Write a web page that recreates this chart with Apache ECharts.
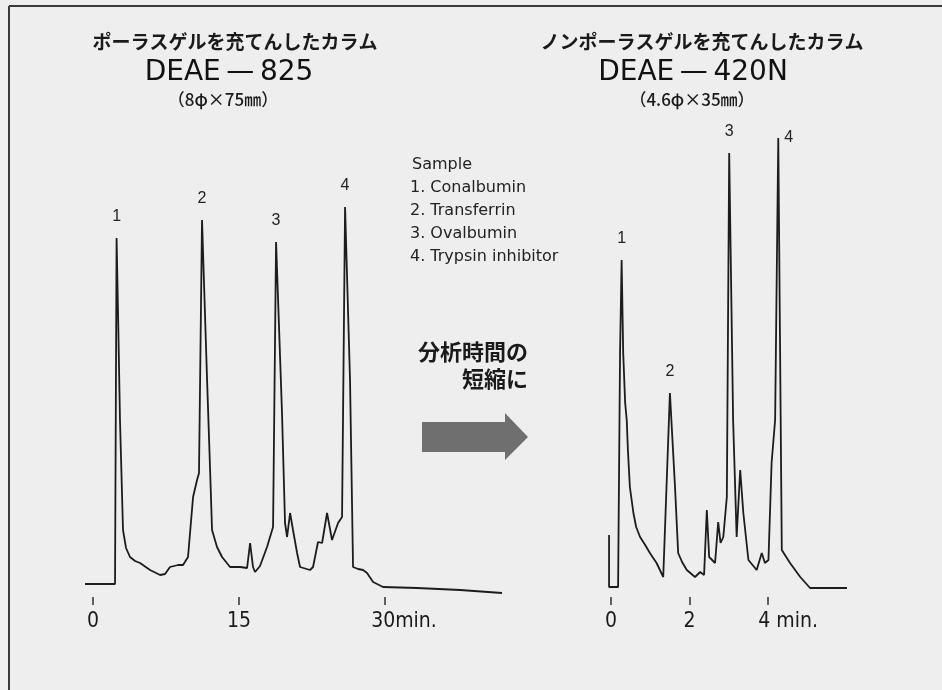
<!DOCTYPE html>
<html>
<head>
<meta charset="utf-8">
<script src="https://cdn.jsdelivr.net/npm/echarts@6/dist/echarts.min.js"></script>
<style>
  html, body { margin: 0; padding: 0; background: #eeeeee; }
  #chart { width: 942px; height: 690px; }
</style>
</head>
<body>
<div id="chart"></div>
<script>
// 左：DEAE-825（時間 min, 信号強度 任意単位）
const leftTime = [-0.82, 2.26, 2.42, 2.57, 2.77, 3.08, 3.39, 3.80, 4.32, 4.83, 5.86, 6.89, 7.40, 7.91, 8.74, 9.25,
  9.76, 10.28, 10.69, 10.89, 11.20, 11.72, 12.03, 12.23, 12.74, 13.26, 14.08, 15.11, 15.83, 16.14, 16.44, 16.65,
  17.16, 17.88, 18.50, 18.60, 18.81, 19.42, 19.73, 19.94, 20.25, 20.55, 20.97, 21.27, 22.30, 22.61, 23.12, 23.54,
  24.05, 24.56, 25.18, 25.59, 25.90, 26.41, 26.72, 27.24, 27.75, 28.16, 28.78, 29.80, 33.30, 37.72, 42.03];
const leftSignal = [13, 13, 359, 284, 177, 67, 49, 40, 36, 34, 27, 22, 23, 30, 32, 32,
  40, 100, 117, 124, 377, 217, 127, 67, 50, 40, 30, 30, 29, 54, 30, 25,
  31, 50, 70, 72, 355, 184, 74, 60, 84, 67, 44, 30, 27, 30, 55, 54,
  84, 57, 74, 80, 390, 217, 30, 28, 27, 24, 15, 10, 9, 7, 4];
const leftPeakTimes = [2.42, 11.20, 18.81, 25.90];

// 右：DEAE-420N
const rightTime = [-0.05, -0.05, 0.18, 0.23, 0.27, 0.31, 0.36, 0.40, 0.43, 0.48, 0.57, 0.64, 0.74, 0.87, 0.99, 1.16,
  1.33, 1.50, 1.63, 1.71, 1.81, 1.93, 2.14, 2.27, 2.37, 2.44, 2.50, 2.65, 2.73, 2.79, 2.86, 2.95,
  3.01, 3.11, 3.20, 3.29, 3.37, 3.50, 3.71, 3.84, 3.92, 4.01, 4.09, 4.18, 4.26, 4.35, 4.56, 4.82, 5.07, 6.01];
const rightSignal = [62, 10, 10, 244, 337, 244, 194, 177, 147, 110, 84, 70, 60, 52, 44, 34,
  20, 204, 110, 44, 35, 27, 20, 25, 22, 87, 40, 34, 75, 54, 60, 100,
  444, 177, 60, 127, 84, 37, 27, 44, 34, 37, 134, 177, 459, 47, 34, 20, 9, 9];
const rightPeakTimes = [0.27, 1.50, 3.01, 4.26];

const peakNames = ['1', '2', '3', '4'];
const leftTicks = [0, 15, 30];
const rightTicks = [0, 2, 4];
const sampleLines = ['Sample', '1. Conalbumin', '2. Transferrin', '3. Ovalbumin', '4. Trypsin inhibitor'];

const tickFont = "'Liberation Sans Narrow', 'DejaVu Sans Condensed', sans-serif";
const jpFont = "'Noto Sans CJK JP', sans-serif";

function buildData(times, values, peaks, sideLabelLast) {
  return times.map((t, i) => {
    const k = peaks.indexOf(t);
    if (k < 0 || (i > 0 && times[i - 1] === t)) return [t, values[i]];
    const side = sideLabelLast && k === peaks.length - 1;
    return {
      value: [t, values[i]],
      label: {
        show: true,
        formatter: peakNames[k],
        position: side ? 'right' : 'top',
        distance: side ? 6 : 13,
        fontSize: 16,
        color: '#222',
        fontFamily: "'Liberation Sans', sans-serif"
      }
    };
  });
}

function xAxisFor(gridIndex, min, max, ticks, unitAt) {
  return {
    type: 'value', gridIndex, min, max,
    axisLine: { show: false },
    splitLine: { show: false },
    axisTick: { show: true, customValues: ticks, length: 8, inside: false, lineStyle: { color: '#333', width: 1.5 } },
    axisLabel: {
      customValues: ticks, margin: 14, fontSize: 21, color: '#1a1a1a', fontFamily: tickFont,
      formatter: v => v === unitAt.v ? '{u|' + v + unitAt.s + '}' : String(v),
      rich: { u: { fontSize: 21, color: '#1a1a1a', fontFamily: tickFont, padding: [0, 0, 0, unitAt.pad] } }
    }
  };
}

const chart = echarts.init(document.getElementById('chart'));
const lineStyle = { color: '#1c1c1c', width: 1.8 };

chart.setOption({
  backgroundColor: '#eeeeee',
  animation: false,
  grid: [
    { left: 83.3, width: 423.3, top: 97, height: 500 },
    { left: 591.4, width: 274.8, top: 97, height: 500 }
  ],
  xAxis: [
    xAxisFor(0, -1, 42.5, leftTicks, { v: 30, s: 'min.', pad: 38 }),
    xAxisFor(1, -0.5, 6.5, rightTicks, { v: 4, s: ' min.', pad: 40 })
  ],
  yAxis: [
    { type: 'value', gridIndex: 0, min: 0, max: 500, show: false },
    { type: 'value', gridIndex: 1, min: 0, max: 500, show: false }
  ],
  series: [
    {
      type: 'line', xAxisIndex: 0, yAxisIndex: 0, showSymbol: true, symbol: 'circle', symbolSize: 0,
      lineStyle, data: buildData(leftTime, leftSignal, leftPeakTimes, false)
    },
    {
      type: 'line', xAxisIndex: 1, yAxisIndex: 1, showSymbol: true, symbol: 'circle', symbolSize: 0,
      lineStyle, data: buildData(rightTime, rightSignal, rightPeakTimes, true)
    }
  ],
  graphic: [
    { type: 'line', shape: { x1: 9, y1: 6, x2: 942, y2: 6 }, style: { stroke: '#3a3a3a', lineWidth: 2 } },
    { type: 'line', shape: { x1: 9, y1: 6, x2: 9, y2: 690 }, style: { stroke: '#3a3a3a', lineWidth: 2 } },
    // 見出し（左）
    { type: 'text', x: 235, y: 42, style: { text: 'ポーラスゲルを充てんしたカラム', font: 'bold 19px ' + jpFont, fill: '#1a1a1a', align: 'center', verticalAlign: 'middle' } },
    { type: 'text', x: 229, y: 73, style: { text: 'DEAE\u2009—\u2009825', font: '28px "DejaVu Sans", sans-serif', fill: '#111', align: 'center', verticalAlign: 'middle' } },
    { type: 'text', x: 223, y: 100, style: { text: '（8φ×75㎜）', font: '500 17px ' + jpFont, fill: '#1a1a1a', align: 'center', verticalAlign: 'middle' } },
    // 見出し（右）
    { type: 'text', x: 702, y: 42, style: { text: 'ノンポーラスゲルを充てんしたカラム', font: 'bold 19px ' + jpFont, fill: '#1a1a1a', align: 'center', verticalAlign: 'middle' } },
    { type: 'text', x: 693, y: 73, style: { text: 'DEAE\u2009—\u2009420N', font: '28px "DejaVu Sans", sans-serif', fill: '#111', align: 'center', verticalAlign: 'middle' } },
    { type: 'text', x: 692, y: 100, style: { text: '（4.6φ×35㎜）', font: '500 17px ' + jpFont, fill: '#1a1a1a', align: 'center', verticalAlign: 'middle' } },
    // サンプル
    ...sampleLines.map((s, i) => ({
      type: 'text', x: i === 0 ? 412 : 410, y: 165 + i * 23,
      style: { text: s, font: '16px "DejaVu Sans", sans-serif', fill: '#222', verticalAlign: 'middle' }
    })),
    // 矢印と説明
    { type: 'text', x: 528, y: 352, style: { text: '分析時間の', font: 'bold 22px ' + jpFont, fill: '#1a1a1a', align: 'right', verticalAlign: 'middle' } },
    { type: 'text', x: 528, y: 379, style: { text: '短縮に', font: 'bold 22px ' + jpFont, fill: '#1a1a1a', align: 'right', verticalAlign: 'middle' } },
    {
      type: 'polygon',
      shape: { points: [[422, 422], [505, 422], [505, 413], [528, 437], [505, 460], [505, 452], [422, 452]] },
      style: { fill: '#6f6f6f' }
    }
  ]
});
</script>
</body>
</html>
